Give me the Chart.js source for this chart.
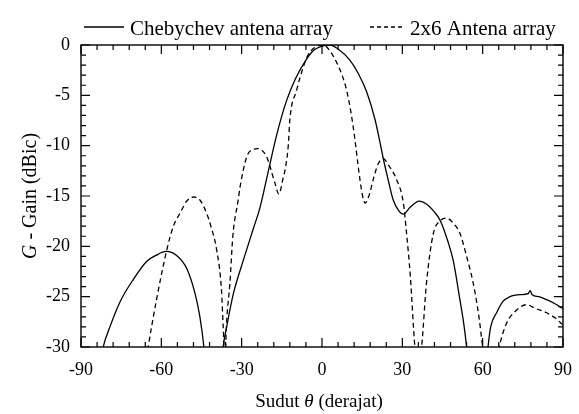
<!DOCTYPE html>
<html>
<head>
<meta charset="utf-8">
<script src="https://cdn.jsdelivr.net/npm/chart.js@4.4.1/dist/chart.umd.min.js"></script>
<style>
  html, body { margin: 0; padding: 0; background: #fff; }
  #wrap { width: 579px; height: 414px; }
</style>
</head>
<body>
<div id="wrap"><canvas id="chartGain"></canvas></div>
<script>
// Data (sudut dalam derajat, gain dalam dBic)
const chebSudut = [-83, -81.7, -79.2, -75.4, -70.5, -65.5, -62, -58.3, -54.3, -50.5, -47.4, -45.6, -44.1, -43.5,
    -40, -37.5, -36.9, -35.6, -33.1, -29.4, -25.6, -23.2, -20.1, -16.9, -13.2, -10, -6, -3, 0, 3, 6,
    10.4, 13.5, 16.6, 19.8, 21.6, 22.9, 24.8, 26.6, 28.5, 30.4, 33, 36.3, 39, 42, 44.1, 47, 49, 51.5, 53, 54, 55,
    58, 61, 62, 63, 65.2, 67.5, 70.2, 74, 77, 77.7, 78.5, 81, 83.9, 87, 90];
const chebGain = [-32, -30, -28, -25.5, -23.3, -21.5, -20.9, -20.5, -20.9, -22.2, -24.7, -27, -30, -32,
    -34, -32, -30, -28, -24.7, -21.4, -18.2, -16.2, -12.6, -8.9, -5.5, -3.4, -1.5, -0.5, -0.1, 0, -0.4,
    -1.5, -2.8, -4.6, -7.4, -9.6, -11.3, -13.5, -15.4, -16.4, -16.8, -16.1, -15.5, -15.8, -16.6, -17.4, -19.5,
    -21.4, -25.3, -27.8, -30, -33, -34, -33, -30, -28, -26.6, -25.5, -25, -24.8, -24.7, -24.4, -24.8, -25,
    -25.3, -25.7, -26.2];

const arraySudut = [-66, -64.9, -61.8, -58, -55.5, -53, -50.5, -48, -45.6, -43.1, -41.5, -39.3, -37.5, -36.9,
    -36.3, -35.5, -34.4, -33.3, -31.3, -30.6, -28.1, -26, -23.8, -20.7, -17.6, -16.1, -14.5, -13.8, -12.6, -12,
    -9.5, -7, -5.2, -2.5, 0.6, 3, 5.6, 7.5, 9.2, 11, 12.3, 13.5, 15, 16.1, 17.5, 19.5, 21, 22.9, 25, 27.9, 30.4,
    31.5, 33, 34.7, 36, 37.2, 39, 41.6, 44, 46.5, 49, 51.5, 54, 56.5, 58.5, 60, 61, 63, 65, 66.2, 69, 72, 76.4,
    80, 83.9, 87, 90];
const arrayGain = [-32, -30, -25.3, -20.4, -18, -16.7, -15.5, -15.1, -15.4, -16.7, -18, -20.4, -24.5, -28,
    -31, -27, -23.7, -19, -15.4, -14.1, -11.1, -10.4, -10.3, -11.1, -13.7, -14.8, -13.2, -12.4, -10, -7.4,
    -4.5, -2.2, -1, -0.2, 0, -0.6, -1.8, -3, -4.5, -7, -9.4, -12, -14.8, -15.7, -15, -13, -11.8, -11.3, -12,
    -13.4, -15.7, -18.5, -23, -30, -32, -30, -23.7, -18.7, -17.5, -17.2, -17.7, -18.7, -21, -23.7, -26.8, -30,
    -32, -33, -32, -30, -27.6, -26.5, -25.8, -26.2, -26.6, -27.1, -27.8];

const sudutTicks = [-90, -60, -30, 0, 30, 60, 90];
const gainTicks = [-30, -25, -20, -15, -10, -5, 0];

const serif = "'Liberation Serif', 'DejaVu Serif', serif";

function toPoints(xs, ys) {
    return xs.map((x, i) => ({ x: x, y: ys[i] }));
}

function drawParts(ctx, parts, cx, y, size) {
    let total = 0;
    parts.forEach(p => {
        ctx.font = p[1] + " " + size + "px " + serif;
        total += ctx.measureText(p[0]).width;
    });
    let x = cx - total / 2;
    ctx.textAlign = "left";
    parts.forEach(p => {
        ctx.font = p[1] + " " + size + "px " + serif;
        ctx.fillText(p[0], x, y);
        x += ctx.measureText(p[0]).width;
    });
}

// Bingkai, tick ke dalam (mayor dan minor), legenda dan judul sumbu
const bingkaiPlugin = {
    id: "bingkai",
    afterDatasetsDraw(chart) {
        const ctx = chart.ctx;
        const a = chart.chartArea;
        const sx = chart.scales.x;
        const sy = chart.scales.y;
        ctx.save();
        ctx.strokeStyle = "#000";
        ctx.lineWidth = 1.4;
        ctx.strokeRect(a.left, a.top, a.right - a.left, a.bottom - a.top);

        ctx.lineWidth = 1.2;
        ctx.beginPath();
        for (let v = -90; v <= 90; v += 6) {
            const px = sx.getPixelForValue(v);
            const len = v % 30 === 0 ? 9 : 5;
            ctx.moveTo(px, a.bottom); ctx.lineTo(px, a.bottom - len);
            ctx.moveTo(px, a.top); ctx.lineTo(px, a.top + len);
        }
        for (let v = -30; v <= 0; v += 1) {
            const py = sy.getPixelForValue(v);
            const len = v % 5 === 0 ? 9 : 5;
            ctx.moveTo(a.left, py); ctx.lineTo(a.left + len, py);
            ctx.moveTo(a.right, py); ctx.lineTo(a.right - len, py);
        }
        ctx.stroke();

        // legenda
        const ds = chart.data.datasets;
        const legenda = [
            { x0: 84, x1: 124, tx: 130 },
            { x0: 370, x1: 405, tx: 410 }
        ];
        ctx.fillStyle = "#000";
        ctx.textAlign = "left";
        ctx.textBaseline = "alphabetic";
        legenda.forEach((l, i) => {
            ctx.lineWidth = ds[i].borderWidth;
            ctx.setLineDash(i === 1 ? [4, 3] : []);
            ctx.beginPath();
            ctx.moveTo(l.x0, 27);
            ctx.lineTo(l.x1, 27);
            ctx.stroke();
            ctx.setLineDash([]);
            ctx.font = "21px " + serif;
            ctx.fillText(ds[i].label, l.tx, 35);
        });

        // judul sumbu x: "Sudut θ (derajat)"
        drawParts(ctx, [["Sudut ", "normal"], ["θ", "italic"], [" (derajat)", "normal"]],
            (a.left + a.right) / 2 - 3, 407, 19);

        // judul sumbu y: "G - Gain (dBic)"
        ctx.translate(36, (a.top + a.bottom) / 2);
        ctx.rotate(-Math.PI / 2);
        drawParts(ctx, [["G", "italic"], [" - Gain (dBic)", "normal"]], 0, 0, 20);
        ctx.restore();
    }
};

new Chart(document.getElementById("chartGain"), {
    type: "line",
    data: {
        datasets: [
            {
                label: "Chebychev antena array",
                data: toPoints(chebSudut, chebGain),
                borderColor: "#000",
                backgroundColor: "#000",
                borderWidth: 1.3,
                pointRadius: 0,
                cubicInterpolationMode: "monotone",
                clip: 0
            },
            {
                label: "2x6 Antena array",
                data: toPoints(arraySudut, arrayGain),
                borderColor: "#000",
                backgroundColor: "#000",
                borderWidth: 1.3,
                borderDash: [5, 3.5],
                pointRadius: 0,
                cubicInterpolationMode: "monotone",
                clip: 0
            }
        ]
    },
    options: {
        responsive: true,
        maintainAspectRatio: false,
        animation: false,
        layout: { padding: { left: 0, right: 16, top: 45, bottom: 0 } },
        plugins: {
            tooltip: { enabled: false },
            legend: { display: false }
        },
        scales: {
            x: {
                type: "linear",
                min: -90,
                max: 90,
                afterBuildTicks: (scale) => { scale.ticks = sudutTicks.map(v => ({ value: v })); },
                ticks: {
                    color: "#000",
                    font: { family: serif, size: 18 },
                    padding: 4,
                    maxRotation: 0,
                    autoSkip: false
                },
                grid: { display: false },
                border: { display: false },
                afterFit: (scale) => { scale.height = 67; }
            },
            y: {
                type: "linear",
                min: -30,
                max: 0,
                afterBuildTicks: (scale) => { scale.ticks = gainTicks.map(v => ({ value: v })); },
                ticks: {
                    color: "#000",
                    font: { family: serif, size: 18 },
                    padding: 3,
                    autoSkip: false
                },
                grid: { display: false },
                border: { display: false },
                afterFit: (scale) => { scale.width = 81; }
            }
        }
    },
    plugins: [bingkaiPlugin]
});
</script>
</body>
</html>
